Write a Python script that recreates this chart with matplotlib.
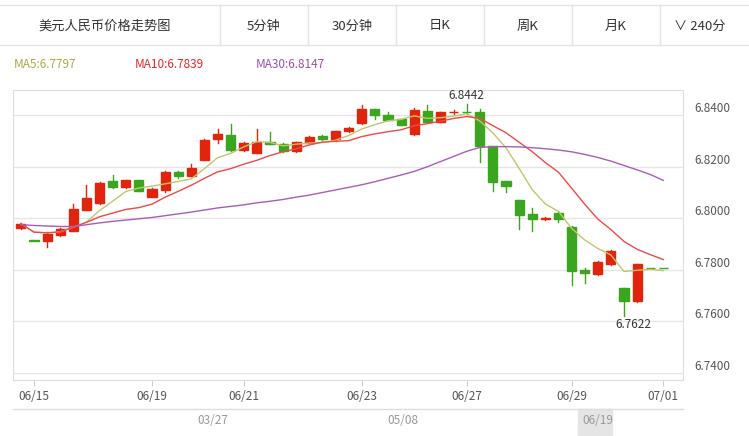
import matplotlib
matplotlib.use("Agg")
import matplotlib.pyplot as plt
from matplotlib.patches import Rectangle
import pandas as pd
import numpy as np

plt.rcParams['font.family'] = ['Noto Sans CJK SC', 'DejaVu Sans']

opens  = [6.7963,6.7913,6.7910,6.7935,6.7952,6.8034,6.8059,6.8144,6.8120,6.8147,
          6.8083,6.8110,6.8181,6.8166,6.8227,6.8306,6.8323,6.8265,6.8254,6.8296,
          6.8289,6.8261,6.8293,6.8320,6.8306,6.8337,6.8368,6.8423,6.8399,6.8385,
          6.8327,6.8417,6.8374,6.8411,6.8413,6.8412,6.8279,6.8144,6.8069,6.8016,
          6.7999,6.8021,6.7968,6.7801,6.7783,6.7822,6.7728,6.7677,6.7808,6.7808]
closes = [6.7979,6.7913,6.7938,6.7959,6.8037,6.8078,6.8137,6.8120,6.8147,6.8106,
          6.8114,6.8181,6.8166,6.8197,6.8305,6.8326,6.8265,6.8293,6.8298,6.8290,
          6.8261,6.8296,6.8316,6.8306,6.8337,6.8351,6.8423,6.8399,6.8382,6.8364,
          6.8420,6.8374,6.8412,6.8413,6.8411,6.8279,6.8141,6.8124,6.8014,6.7997,
          6.8001,6.7997,6.7797,6.7787,6.7832,6.7873,6.7677,6.7821,6.7806,6.7806]
highs  = [6.7982,6.7913,6.7946,6.7962,6.8055,6.8128,6.8140,6.8169,6.8150,6.8147,
          6.8117,6.8183,6.8183,6.8210,6.8307,6.8345,6.8367,6.8296,6.8345,6.8333,
          6.8292,6.8298,6.8320,6.8323,6.8339,6.8353,6.8438,6.8425,6.8412,6.8387,
          6.8428,6.8440,6.8414,6.8420,6.8442,6.8426,6.8281,6.8146,6.8071,6.8041,
          6.8006,6.8023,6.7970,6.7805,6.7834,6.7875,6.7730,6.7823,6.7808,6.7808]
lows   = [6.7960,6.7913,6.7889,6.7933,6.7950,6.8032,6.8057,6.8118,6.8118,6.8104,
          6.8081,6.8103,6.8156,6.8164,6.8225,6.8291,6.8263,6.8263,6.8252,6.8288,
          6.8259,6.8259,6.8291,6.8304,6.8300,6.8335,6.8366,6.8386,6.8380,6.8362,
          6.8325,6.8372,6.8372,6.8405,6.8405,6.8220,6.8106,6.8103,6.7959,6.7952,
          6.7993,6.7985,6.7739,6.7750,6.7781,6.7820,6.7622,6.7674,6.7806,6.7806]
ma30 = [6.7975,6.7972,6.7970,6.7968,6.7968,6.7975,6.7982,6.7988,6.7993,6.7998,
        6.8003,6.8010,6.8017,6.8024,6.8032,6.8040,6.8046,6.8052,6.8060,6.8066,
        6.8073,6.8082,6.8090,6.8100,6.8110,6.8120,6.8130,6.8142,6.8155,6.8168,
        6.8182,6.8200,6.8220,6.8240,6.8260,6.8275,6.8278,6.8278,6.8277,6.8274,
        6.8270,6.8265,6.8258,6.8248,6.8236,6.8222,6.8205,6.8188,6.8170,6.8147]
date_idx = [1, 10, 17, 26, 34, 42, 49]
date_labels = ["06/15","06/19","06/21","06/23","06/27","06/29","07/01"]
yticks = [6.74, 6.76, 6.78, 6.80, 6.82, 6.84]
tabs = ["美元人民币价格走势图","5分钟","30分钟","日K","周K","月K","∨ 240分"]
nav_labels = ["03/27","05/08","06/19"]

W, H = 749, 436
fig = plt.figure(figsize=(W/100, H/100), dpi=100)
fig.patch.set_facecolor("white")

# header
hdr = fig.add_axes([0, 0, 1, 1]); hdr.set_xlim(0, W); hdr.set_ylim(H, 0); hdr.axis("off")
hdr.plot([0, W], [5, 5], color="#e3e3e3", lw=1)
hdr.plot([0, W], [45, 45], color="#e3e3e3", lw=1)
seps = [220, 308, 396, 484, 572, 660]
for s in seps:
    hdr.plot([s, s], [5, 45], color="#e3e3e3", lw=1)
cx = [105, 264, 352, 440, 528, 616, 700]
for t, x in zip(tabs, cx):
    hdr.text(x, 26, t, ha="center", va="center", fontsize=9.5, color="#333333")
hdr.text(14, 64, "MA5:6.7797", color="#a9a94a", fontsize=8.5, va="center")
hdr.text(135, 64, "MA10:6.7839", color="#e8262a", fontsize=8.5, va="center")
hdr.text(256, 64, "MA30:6.8147", color="#9b4fa8", fontsize=8.5, va="center")

# main chart
ax = fig.add_axes([13/W, 1-380/H, (683-13)/W, (380-90)/H])
n = len(closes)
x = np.arange(n)
for i in x:
    up = closes[i] > opens[i]
    c = "#e0250e" if up else "#3aa51e"
    ax.plot([i, i], [lows[i], highs[i]], color=c, lw=1, zorder=2)
    lo, hi = min(opens[i], closes[i]), max(opens[i], closes[i])
    hgt = max(hi - lo, 0.00012)
    ax.add_patch(Rectangle((i - 0.35, lo), 0.7, hgt, color=c, zorder=3))
cs = pd.Series(closes)
ax.plot(x, cs.rolling(5, min_periods=1).mean(), color="#c2c56a", lw=1, zorder=4)
ax.plot(x, cs.rolling(10, min_periods=1).mean(), color="#ee4a4a", lw=1, zorder=4)
ax.plot(x, ma30, color="#a85db8", lw=1, zorder=4)
ax.set_xlim(-0.6, 50.5)
ax.set_ylim(6.7372, 6.8498)
ax.set_yticks(yticks)
ax.yaxis.tick_right()
ax.set_yticklabels([f"{v:.4f}" for v in yticks], fontsize=8.5, color="#555555")
ax.tick_params(axis="y", length=0, pad=8)
for lab in ax.get_yticklabels():
    lab.set_verticalalignment("bottom")
ax.grid(axis="y", color="#e6e6e6", lw=1)
ax.set_xticks(date_idx)
ax.set_xticklabels(date_labels, fontsize=8.5, color="#555555")
ax.tick_params(axis="x", length=4, color="#cccccc")
for s in ax.spines.values():
    s.set_color("#dddddd")
ax.set_axisbelow(True)
ihi = int(np.argmax(highs)); ilo = int(np.argmin(lows))
ax.text(ihi, highs[ihi] + 0.0008, f"{highs[ihi]:.4f}", ha="center", va="bottom", fontsize=8.5, color="#333333")
ax.text(ilo + 0.7, lows[ilo] - 0.0008, f"{lows[ilo]:.4f}", ha="center", va="top", fontsize=8.5, color="#333333")

# navigator
hdr.plot([13, 683], [409, 409], color="#dddddd", lw=1)
hdr.add_patch(Rectangle((578, 409), 34, 27, color="#e5e5e5"))
for t, xx in zip(nav_labels, [213, 403, 598]):
    hdr.text(xx, 420, t, ha="center", va="center", fontsize=8.5, color="#999999")

fig.savefig("out.png", dpi=100)
